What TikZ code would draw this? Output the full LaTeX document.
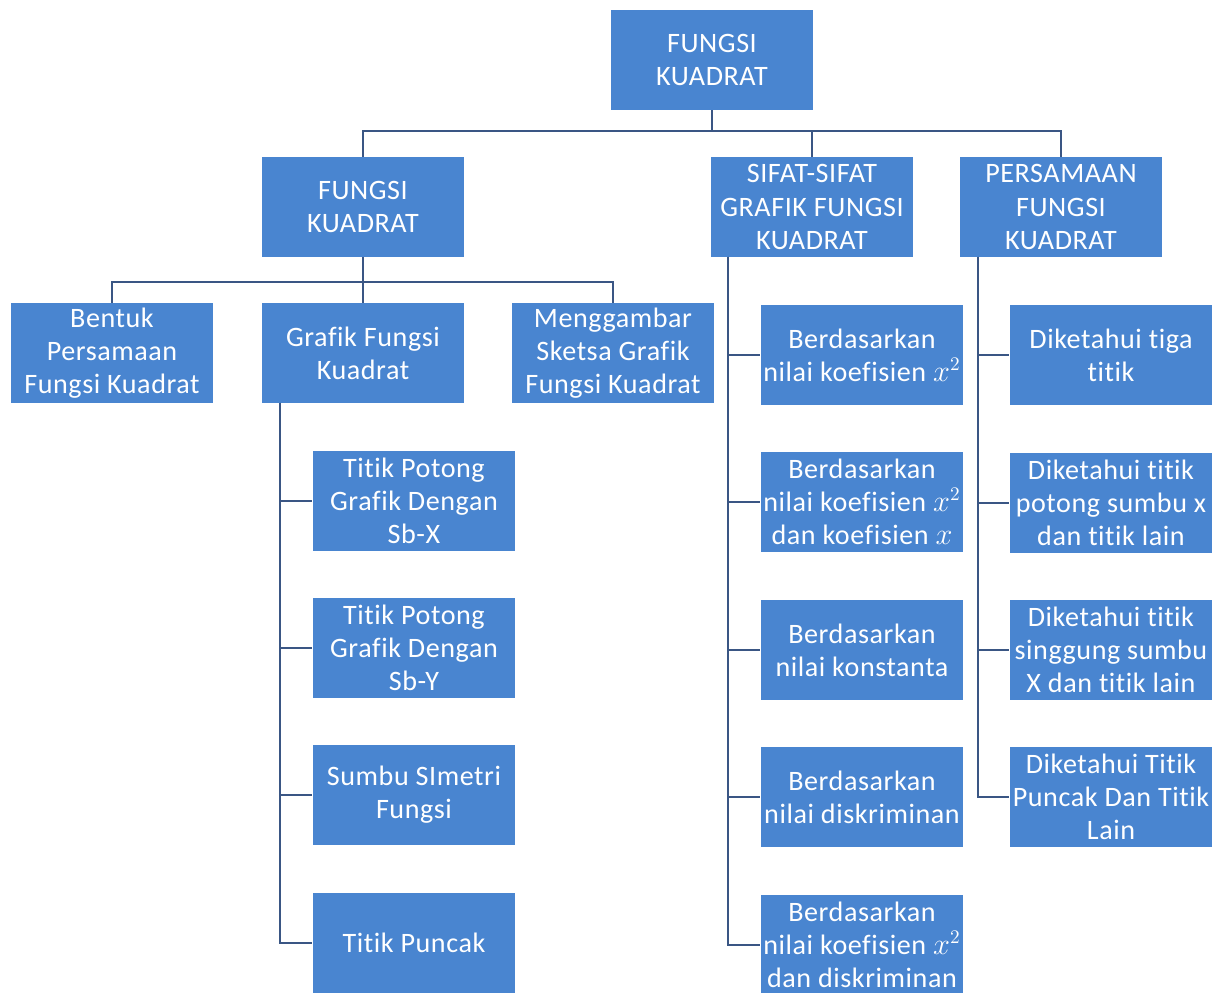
\documentclass[tikz,border=0pt]{standalone}
\usepackage{fontspec}
\setmainfont[Ligatures=NoCommon,LetterSpace=2]{Carlito}
\definecolor{boxblue}{RGB}{73,133,208}
\definecolor{linkblue}{RGB}{58,86,132}
\begin{document}
\begin{tikzpicture}[x=0.02cm,y=-0.02cm]
    \newcommand{\colA}[0]{112}
    \newcommand{\colB}[0]{363}
    \newcommand{\colC}[0]{613}
    \newcommand{\colD}[0]{862}
    \newcommand{\colE}[0]{1111}
    \newcommand{\subX}[0]{414}

    \tikzstyle{link}=[draw=linkblue, line width=1.1pt]

    \tikzstyle{box}=[
      rectangle,
      fill=boxblue,
      text=white,
      align=center,
      anchor=center,
      inner sep=0pt,
      minimum width=4.06cm,
      minimum height=2cm,
      font=\fontsize{16}{18.8}\selectfont,
    ]

    \useasboundingbox (0,0) rectangle (1215,993);
    \clip (0,0) rectangle (1215,993);

    \node[box] (top) at (712,60) {FUNGSI\\KUADRAT};

    \node[box] (fk) at (\colB,207) {FUNGSI\\KUADRAT};
    \node[box] (sifat) at (812,207) {SIFAT-SIFAT\\GRAFIK FUNGSI\\KUADRAT};
    \node[box] (pers) at (1061,207) {PERSAMAAN\\FUNGSI\\KUADRAT};

    \node[box] (bentuk) at (\colA,353) {Bentuk\\Persamaan\\Fungsi Kuadrat};
    \node[box] (grafik) at (\colB,353) {Grafik Fungsi\\Kuadrat};
    \node[box] (sketsa) at (\colC,353) {Menggambar\\Sketsa Grafik\\Fungsi Kuadrat};

    \node[box] (g1) at (\subX,501) {Titik Potong\\Grafik Dengan\\Sb-X};
    \node[box] (g2) at (\subX,648) {Titik Potong\\Grafik Dengan\\Sb-Y};
    \node[box] (g3) at (\subX,795) {Sumbu SImetri\\Fungsi};
    \node[box] (g4) at (\subX,943) {Titik Puncak};

    \node[box] (s1) at (\colD,355) {Berdasarkan\\nilai koefisien $x^2$};
    \node[box] (s2) at (\colD,502) {Berdasarkan\\nilai koefisien $x^2$\\dan koefisien $x$};
    \node[box] (s3) at (\colD,650) {Berdasarkan\\nilai konstanta};
    \node[box] (s4) at (\colD,797) {Berdasarkan\\nilai diskriminan};
    \node[box] (s5) at (\colD,945) {Berdasarkan\\nilai koefisien $x^2$\\dan diskriminan};

    \node[box] (p1) at (\colE,355) {Diketahui tiga\\titik};
    \node[box] (p2) at (\colE,503) {Diketahui titik\\potong sumbu x\\dan titik lain};
    \node[box] (p3) at (\colE,650) {Diketahui titik\\singgung sumbu\\X dan titik lain};
    \node[box] (p4) at (\colE,797) {Diketahui Titik\\Puncak Dan Titik\\Lain};

    % spines
    \coordinate (gspine) at (280,403);
    \coordinate (sspine) at (728,257);
    \coordinate (pspine) at (978,257);

    \draw[link] (top.south) -- ++(0,21) -| (fk.north);
    \draw[link] (top.south) ++(0,21) -| (sifat.north);
    \draw[link] (top.south) ++(0,21) -| (pers.north);

    \draw[link] (fk.south) -- ++(0,25) -| (bentuk.north);
    \draw[link] (fk.south) -- (grafik.north);
    \draw[link] (fk.south) ++(0,25) -| (sketsa.north);

    \foreach \n in {g1,g2,g3,g4}
      \draw[link] (gspine) |- (\n.west);
    \foreach \n in {s1,s2,s3,s4,s5}
      \draw[link] (sspine) |- (\n.west);
    \foreach \n in {p1,p2,p3,p4}
      \draw[link] (pspine) |- (\n.west);
\end{tikzpicture}
\end{document}
